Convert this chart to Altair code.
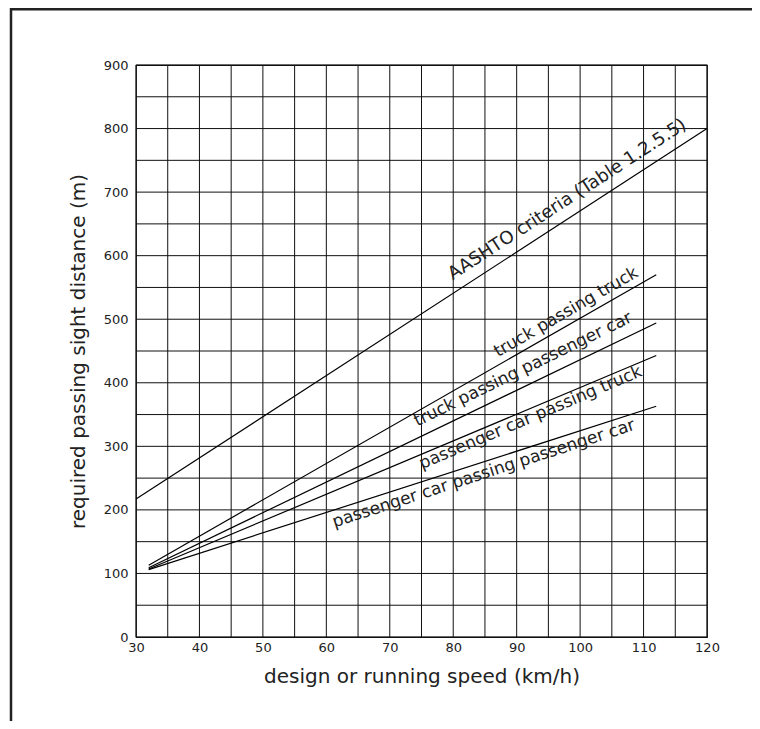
import altair as alt
import pandas as pd

# ---- data ----
aashto_speed = [30, 120]
aashto_psd = [217, 800]

model_speed = [32, 112]
tpt = [113, 570]     # truck passing truck
tppc = [109, 494]    # truck passing passenger car
pcpt = [107, 443]    # passenger car passing truck
pcppc = [106, 363]   # passenger car passing passenger car

label_texts = [
    "AASHTO criteria (Table 1.2.5.5)",
    "truck passing truck",
    "truck passing passenger car",
    "passenger car passing truck",
    "passenger car passing passenger car",
]
label_x = [98.0, 97.8, 91.0, 92.2, 84.8]
label_y = [688, 511, 421, 345, 257]
label_angle = [327, 330, 334, 337, 342]
label_size = [18, 17, 17, 17, 17]

x_grid = list(range(30, 121, 5))
y_grid = list(range(0, 901, 50))
x_ticks = list(range(30, 121, 10))
y_ticks = list(range(0, 901, 100))

rows = []
for s, v in zip(aashto_speed, aashto_psd):
    rows.append({"series": "aashto", "speed": s, "psd": v})
for name, vals in [("tpt", tpt), ("tppc", tppc), ("pcpt", pcpt), ("pcppc", pcppc)]:
    for s, v in zip(model_speed, vals):
        rows.append({"series": name, "speed": s, "psd": v})
df = pd.DataFrame(rows)

FONT = "DejaVu Sans"
INK = "#222222"
GRID = "#111111"

xscale = alt.Scale(domain=[30, 120], nice=False, zero=False)
yscale = alt.Scale(domain=[0, 900], nice=False)

xaxis = alt.Axis(
    values=x_ticks,
    title="design or running speed (km/h)",
    domain=False, ticks=False, grid=False,
    labelFont=FONT, labelFontSize=13, labelColor=INK, labelPadding=4,
    labelOverlap=False, labelFlush=False,
    titleFont=FONT, titleFontSize=20, titleFontWeight="normal", titleColor=INK,
    titlePadding=12,
)
yaxis = alt.Axis(
    values=y_ticks,
    title="required passing sight distance (m)",
    domain=False, ticks=False, grid=False,
    labelFont=FONT, labelFontSize=13, labelColor=INK, labelPadding=8,
    labelOverlap=False,
    titleFont=FONT, titleFontSize=20, titleFontWeight="normal", titleColor=INK,
    titlePadding=15,
)

# grid drawn from the grid value arrays
vgrid = alt.Chart(pd.DataFrame({"speed": x_grid})).mark_rule(
    color=GRID, strokeWidth=1
).encode(x=alt.X("speed:Q", scale=xscale, axis=xaxis))
hgrid = alt.Chart(pd.DataFrame({"psd": y_grid})).mark_rule(
    color=GRID, strokeWidth=1
).encode(y=alt.Y("psd:Q", scale=yscale, axis=yaxis))

lines = alt.Chart(df).mark_line(color="#000000", strokeWidth=1.2).encode(
    x=alt.X("speed:Q", scale=xscale, axis=xaxis),
    y=alt.Y("psd:Q", scale=yscale, axis=yaxis),
    detail="series:N",
)

labels_df = pd.DataFrame({"text": label_texts, "speed": label_x, "psd": label_y})
label_layers = []
for i in range(len(label_texts)):
    sub = labels_df.iloc[[i]]
    label_layers.append(
        alt.Chart(sub).mark_text(
            font=FONT, fontSize=label_size[i], color=INK, align="center", baseline="middle",
            angle=label_angle[i],
        ).encode(
            x=alt.X("speed:Q", scale=xscale, axis=xaxis),
            y=alt.Y("psd:Q", scale=yscale, axis=yaxis),
            text="text:N",
        )
    )

# decorative page frame (top and left edges)
frame_top = alt.Chart(pd.DataFrame({"a": [0]})).mark_rule(
    color="#222222", strokeWidth=3, clip=False
).encode(x=alt.value(-125), x2=alt.value(620), y=alt.value(-56))
frame_left = alt.Chart(pd.DataFrame({"a": [0]})).mark_rule(
    color="#222222", strokeWidth=2.5, clip=False
).encode(x=alt.value(-125), y=alt.value(-57), y2=alt.value(660))

chart = alt.layer(vgrid, hgrid, lines, *label_layers, frame_top, frame_left).properties(
    width=571,
    height=572,
    autosize=alt.AutoSizeParams(type="none"),
    padding={"left": 128, "top": 57, "right": 45, "bottom": 84},
).configure(
    background="white"
).configure_view(
    stroke=GRID, strokeWidth=1.2
)

chart.save("out.html", embed_options={"renderer": "svg", "actions": False})
